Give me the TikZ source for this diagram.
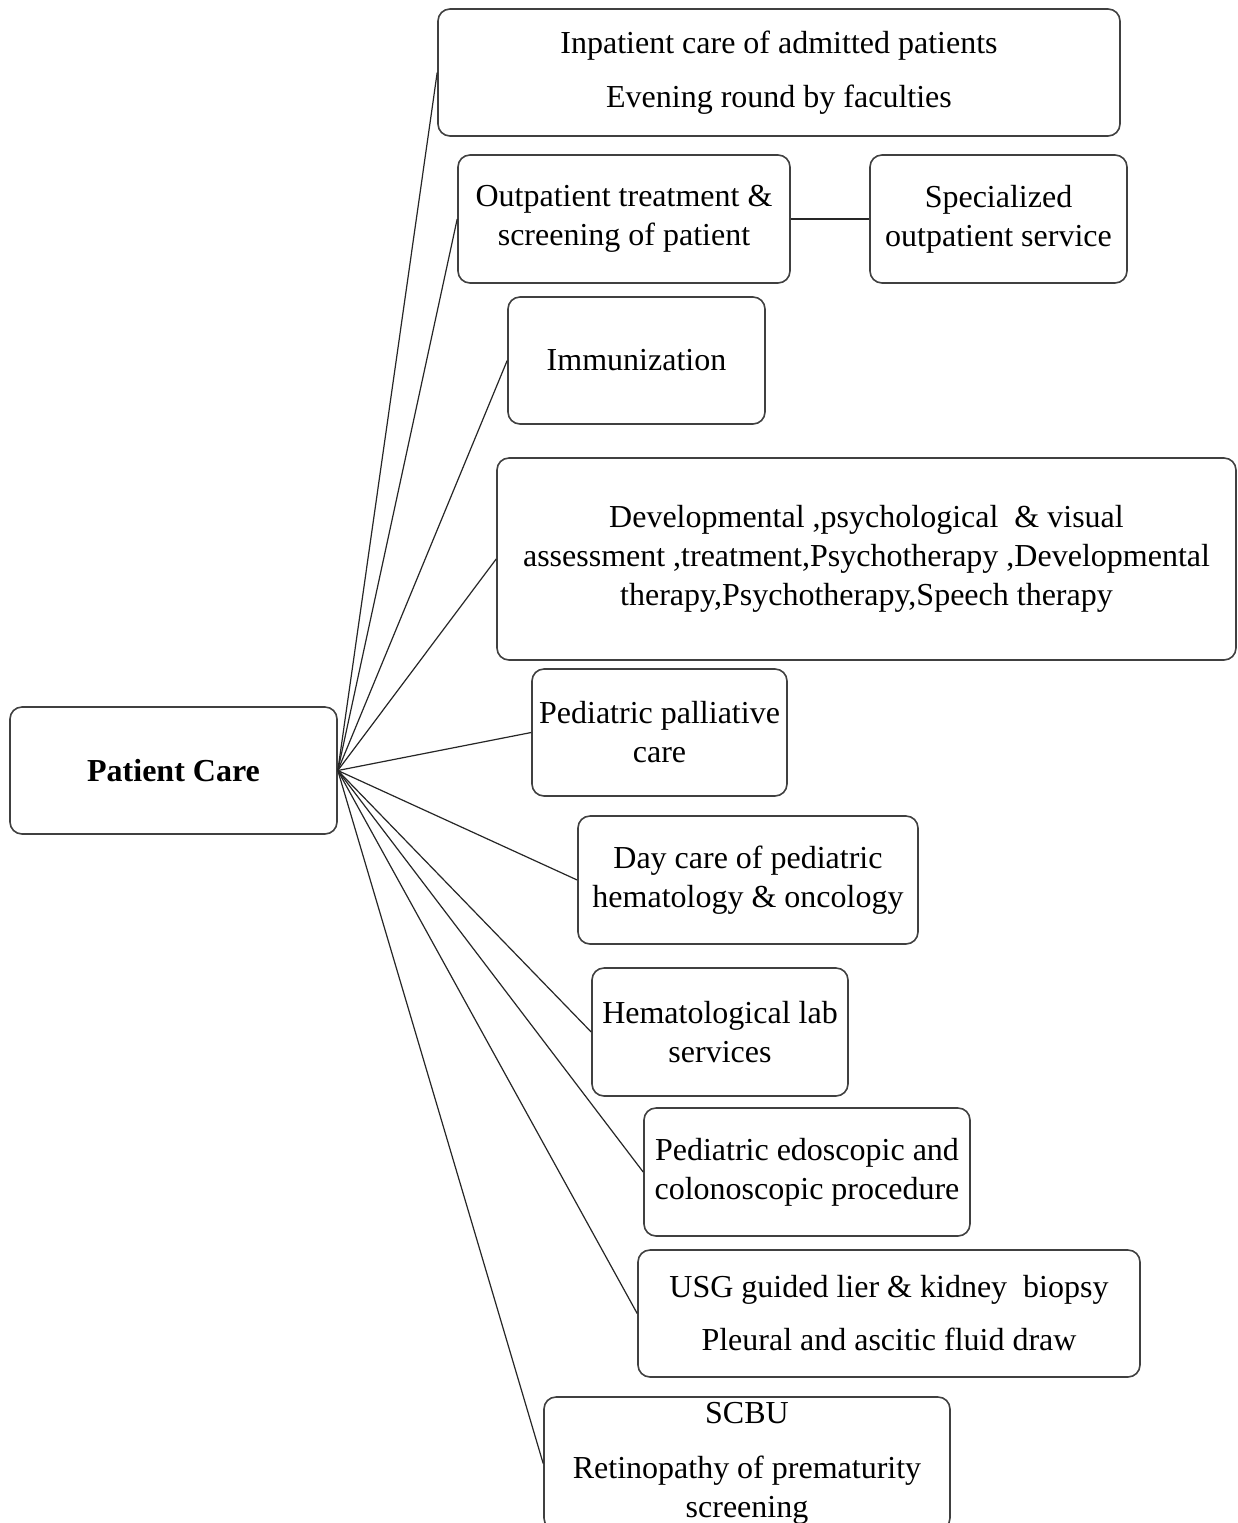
\documentclass[tikz,border=0pt]{standalone}
\usepackage{fontspec}
\setmainfont{Liberation Serif}
\begin{document}
\begin{tikzpicture}[x=0.5pt,y=-0.5pt,
  box/.style={draw=black!75, line width=0.8pt, rounded corners=6pt, align=center,
    inner sep=0pt, font=\fontsize{16}{19.5}\selectfont},
  link/.style={draw=black!85, line width=0.6pt}]
\useasboundingbox[fill=white] (0,0) rectangle (1238,1523);
\node[box, minimum width=163.5pt, minimum height=63.5pt, font=\fontsize{16}{19.5}\selectfont\bfseries] (root) at (173.5,770.5) {Patient Care};
\node[box, minimum width=341pt, minimum height=63.5pt] (inp) at (779,72.5) {Inpatient care of admitted patients\\[7.5pt]Evening round by faculties};
\node[box, minimum width=166pt, minimum height=64pt] (outp) at (624,219) {Outpatient treatment \&\\screening of patient};
\node[box, minimum width=128.5pt, minimum height=64pt] (spec) at (998.5,219) {Specialized\\outpatient service};
\node[box, minimum width=128.5pt, minimum height=63.5pt] (imm) at (636.5,360.5) {Immunization};
\node[box, minimum width=369.5pt, minimum height=101pt] (dev) at (866.5,559) {Developmental ,psychological \ \& visual\\assessment ,treatment,Psychotherapy ,Developmental\\therapy,Psychotherapy,Speech therapy};
\node[box, minimum width=127.5pt, minimum height=63.5pt] (pall) at (659.5,732.5) {Pediatric palliative\\care};
\node[box, minimum width=170pt, minimum height=64pt] (day) at (748,880) {Day care of pediatric\\hematology \& oncology};
\node[box, minimum width=128pt, minimum height=64pt] (hem) at (720,1032) {Hematological lab\\services};
\node[box, minimum width=163pt, minimum height=64pt] (endo) at (807,1172) {Pediatric edoscopic and\\colonoscopic procedure};
\node[box, minimum width=251pt, minimum height=63.5pt] (usg) at (889,1313.5) {USG guided lier \& kidney \ biopsy\\[7pt]Pleural and ascitic fluid draw};
\node[box, minimum width=203pt, minimum height=66.5pt] (scbu) at (747,1463.5) {SCBU\\[8pt]Retinopathy of prematurity\\screening};
\foreach \t in {inp,outp,imm,dev,pall,day,hem,endo,usg,scbu}
  \draw[link] (root.east) -- (\t.west);
\draw[link] (outp.east) -- (spec.west);
\end{tikzpicture}
\end{document}
